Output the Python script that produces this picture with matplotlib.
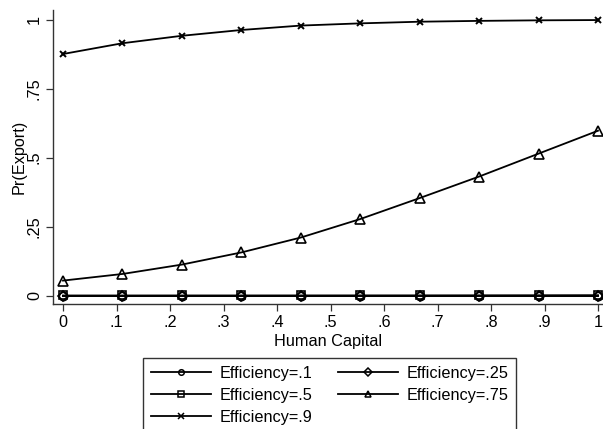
import matplotlib
matplotlib.use("Agg")
import matplotlib.pyplot as plt
from matplotlib.lines import Line2D

plt.rcParams['font.family'] = ['Liberation Sans', 'DejaVu Sans']

# Human capital grid
human_capital = [0.0, 1/9, 2/9, 3/9, 4/9, 5/9, 6/9, 7/9, 8/9, 1.0]

# Predicted probability of exporting, by efficiency level
pr_eff_10 = [0.0, 0.0, 0.0, 0.0, 0.0, 0.0, 0.0, 0.0, 0.0, 0.0]
pr_eff_25 = [0.0, 0.0, 0.0, 0.0, 0.0, 0.0, 0.0, 0.0, 0.0, 0.0]
pr_eff_50 = [0.0001, 0.0001, 0.0002, 0.0002, 0.0003, 0.0004, 0.0005, 0.0007, 0.0009, 0.0012]
pr_eff_75 = [0.054, 0.078, 0.112, 0.156, 0.210, 0.277, 0.353, 0.431, 0.514, 0.597]
pr_eff_90 = [0.875, 0.914, 0.941, 0.962, 0.978, 0.986, 0.992, 0.995, 0.997, 0.998]

series_labels = ["Efficiency=.1", "Efficiency=.25", "Efficiency=.5",
                 "Efficiency=.75", "Efficiency=.9"]

x_ticks = [0, .1, .2, .3, .4, .5, .6, .7, .8, .9, 1]
x_ticklabels = ["0", ".1", ".2", ".3", ".4", ".5", ".6", ".7", ".8", ".9", "1"]
y_ticks = [0, .25, .5, .75, 1]
y_ticklabels = ["0", ".25", ".5", ".75", "1"]

FS = 11.7

fig = plt.figure(figsize=(6.03, 4.29), dpi=100)
ax = fig.add_axes([53/603, (429-304)/429, 550/603, 294/429])

markers = ['o', 'D', 's', '^', 'x']
plot_ms = [6, 5.5, 5.5, 6.5, 5]
legend_ms = [4, 4.5, 4.2, 4.5, 4]
series = [pr_eff_10, pr_eff_25, pr_eff_50, pr_eff_75, pr_eff_90]

handles = []
for ys, lab, mk, ms, lms in zip(series, series_labels, markers, plot_ms, legend_ms):
    mew = 1.4 if mk == 'x' else 1.2
    ax.plot(human_capital, ys, color='black', lw=1.3, marker=mk, ms=ms,
            mfc='none', mec='black', mew=mew)
    handles.append(Line2D([], [], color='black', lw=1.3, marker=mk, ms=lms,
                          mfc='none', mec='black', mew=1.1))

ax.set_xlim(-10/535, 1 + 5/535)
ax.set_ylim(-8.5/276, 1 + 9.5/276)

ax.set_xticks(x_ticks)
ax.set_xticklabels(x_ticklabels, fontsize=FS)
ax.set_yticks(y_ticks)
ax.set_yticklabels(y_ticklabels, fontsize=FS, rotation=90, va='center')

for side in ('top', 'right'):
    ax.spines[side].set_visible(False)
for side in ('left', 'bottom'):
    ax.spines[side].set_color('#333333')
    ax.spines[side].set_linewidth(1.0)
ax.tick_params(direction='out', length=5, width=0.9, color='#333333', pad=3)

ax.set_xlabel("Human Capital", fontsize=FS, labelpad=3)
ax.set_ylabel("Pr(Export)", fontsize=FS, labelpad=0)

# row-wise legend order across two columns
order = [0, 2, 4, 1, 3]
leg = fig.legend([handles[i] for i in order], [series_labels[i] for i in order],
                 loc='upper left', bbox_to_anchor=(143/603, 1 - 358/429),
                 ncol=2, fontsize=FS, frameon=True, fancybox=False,
                 edgecolor='black', borderaxespad=0, handlelength=3.7,
                 handletextpad=0.5, columnspacing=1.6, labelspacing=0.42,
                 borderpad=0.5)
leg.get_frame().set_linewidth(1.0)

fig.savefig("out.png", dpi=100)
